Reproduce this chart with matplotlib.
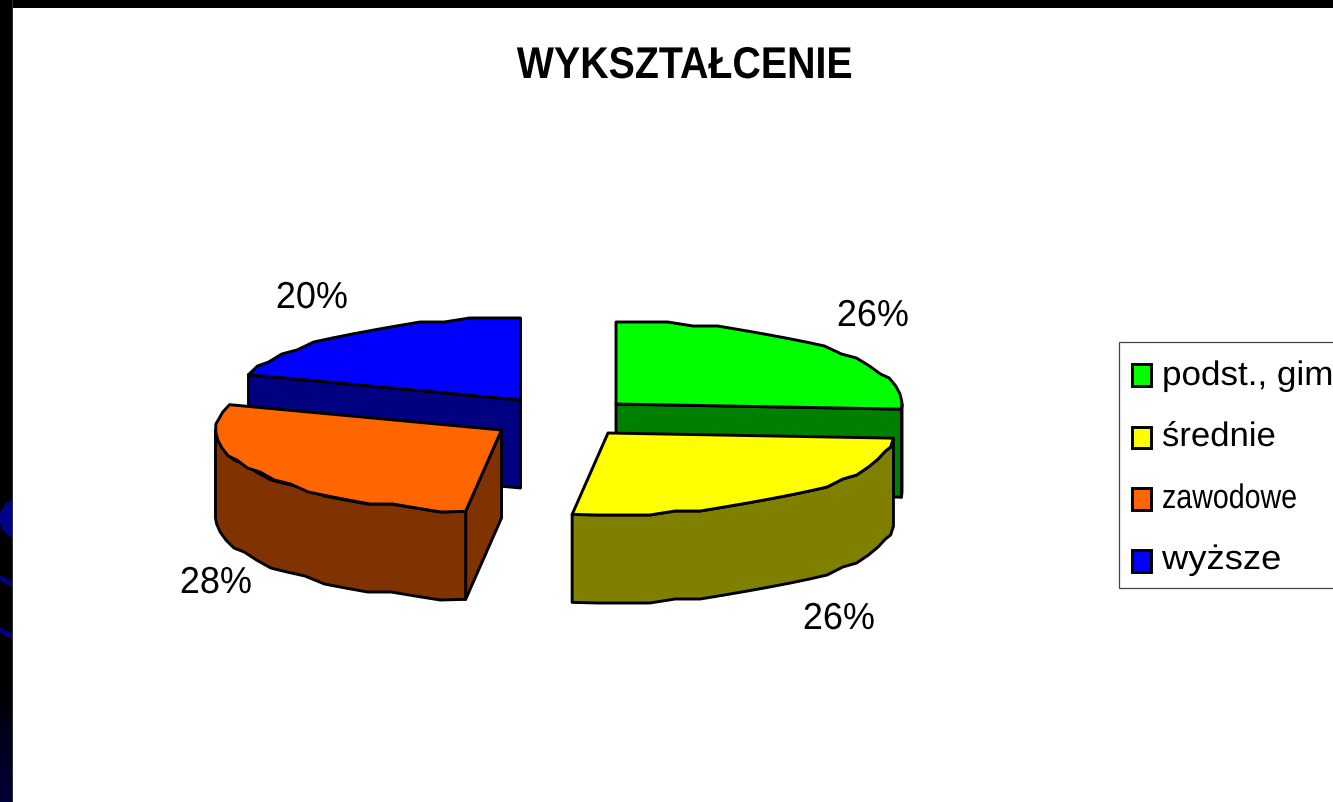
import numpy as np
import matplotlib
matplotlib.use("Agg")
import matplotlib.pyplot as plt
from matplotlib.patches import Polygon, Rectangle, Circle
from matplotlib.patheffects import AbstractPathEffect
from matplotlib.transforms import Affine2D

plt.rcParams['font.family'] = ['Liberation Sans', 'DejaVu Sans']

# dane wykresu
categories = ["podst., gimn.", "średnie", "zawodowe", "wyższe"]
shares = [26, 26, 28, 20]
top_colors = ["#00ff00", "#ffff00", "#ff6600", "#0000ff"]
side_colors = ["#008000", "#808000", "#803300", "#000080"]
title = "WYKSZTAŁCENIE"

# uklad: wspolrzedne w pikselach
APEX = [(616, 404), (608, 433), (501.5, 430), (520.5, 400)]
LABEL_POS = [(873, 326), (839, 629), (216, 593), (312, 308)]
RX, RY, DEPTH = 286, 82, 88
EDGE = 2.1


class Squeeze(AbstractPathEffect):
    """Zweza tekst w poziomie wokol punktu x0."""

    def __init__(self, x0, factor):
        super().__init__()
        self.x0 = x0
        self.factor = factor

    def draw_path(self, renderer, gc, tpath, affine, rgbFace=None):
        squeeze = Affine2D().translate(-self.x0, 0).scale(self.factor, 1).translate(self.x0, 0)
        renderer.draw_path(gc, tpath, affine + squeeze, rgbFace)


def rim(apex, a0, a1, step=5.0, snap=4.0):
    # luk elipsy na grubej siatce, stad lekko schodkowy obrys
    n = max(int(abs(a1 - a0) / step), 1)
    ang = np.radians(np.linspace(a0, a1, n + 1))
    x = apex[0] + RX * np.cos(ang)
    y = apex[1] - RY * np.sin(ang)
    top = apex[1] - RY
    y[1:-1] = top + np.round((y[1:-1] - top) / snap) * snap
    return np.column_stack([x, y])


def poly(ax, pts, color, z):
    ax.add_patch(Polygon(pts, closed=True, facecolor=color, edgecolor="black",
                         linewidth=EDGE, joinstyle="round", zorder=z))


def extrude(pts):
    lower = np.array(pts, dtype=float)[::-1].copy()
    lower[:, 1] += DEPTH
    return np.vstack([pts, lower])


fig = plt.figure(figsize=(13.33, 8.02), dpi=100, facecolor="black")
ax = fig.add_axes([0, 0, 1, 1])
ax.set_axis_off()

# ciemny pasek tla po lewej stronie slajdu
shade = np.zeros((122, 1, 3))
shade[:, 0, 2] = np.linspace(0, 0.22, 122)
ax.imshow(shade, extent=(0, 13, 802, 680), aspect="auto", zorder=0)
ax.add_patch(Circle((20, 518.5), 20.5, facecolor="#00008c", edgecolor="none", zorder=1))
for y0 in (575, 627):
    band = Polygon([(0, y0), (13, y0 + 7), (13, y0 + 13), (0, y0 + 5)], facecolor="#00008c",
                   edgecolor="none", zorder=1)
    ax.add_patch(band)
ax.add_patch(Rectangle((12, 0), 1, 802, facecolor="#333333", edgecolor="none", zorder=1.5))
ax.add_patch(Rectangle((13, 8), 1320, 794, facecolor="white", edgecolor="none", zorder=2))

ax.text(685, 78, title, fontsize=32, fontweight="bold", ha="center", va="baseline",
        zorder=20, path_effects=[Squeeze(685, 0.885)])

# katy wycinkow: start na godzinie 12, zgodnie z ruchem wskazowek
edges = 90 - 3.6 * np.cumsum([0] + shares)
order = [3, 0, 2, 1]
for rank, i in enumerate(order):
    a0, a1 = edges[i], edges[i + 1]
    apex = APEX[i]
    z = 5 + 3 * rank
    arc = rim(apex, a0, a1)
    # sciany boczne zaleznie od tego, co widac od przodu
    if i == 3:
        poly(ax, extrude(np.array([apex, arc[0]])), side_colors[i], z)
    elif i == 0:
        poly(ax, extrude(np.array([apex, arc[-1]])), side_colors[i], z)
        poly(ax, extrude(rim(apex, 0, a1)), side_colors[i], z)
    elif i == 2:
        poly(ax, extrude(np.array([apex, arc[0]])), side_colors[i], z)
        poly(ax, extrude(rim(apex, a0, -180)), side_colors[i], z)
    else:
        poly(ax, extrude(arc), side_colors[i], z)
    poly(ax, np.vstack([[apex], arc]), top_colors[i], z + 1)

for share, (x, y) in zip(shares, LABEL_POS):
    ax.text(x, y, f"{share}%", fontsize=27, ha="center", va="baseline", zorder=20,
            path_effects=[Squeeze(x, 0.96)])

# legenda, prawa krawedz wychodzi poza slajd
ax.add_patch(Rectangle((1118.5, 341.5), 300, 246.5, facecolor="white", edgecolor="#444444",
                       linewidth=0.9, zorder=15))
swatch_top = [364, 426.5, 488, 550]
row_base = [385, 446, 508, 569]
row_squeeze = [1.03, 1.02, 0.84, 1.07]
for name, color, top, base, sq in zip(categories, top_colors, swatch_top, row_base, row_squeeze):
    ax.add_patch(Rectangle((1132, top), 19, 21.5, facecolor=color, edgecolor="black",
                           linewidth=EDGE, zorder=16))
    ax.text(1162, base, name, fontsize=24.5, ha="left", va="baseline", zorder=17,
            path_effects=[Squeeze(1162, sq)])

ax.set_xlim(0, 1333)
ax.set_ylim(802, 0)
fig.savefig("out.png", dpi=100, facecolor="black")
